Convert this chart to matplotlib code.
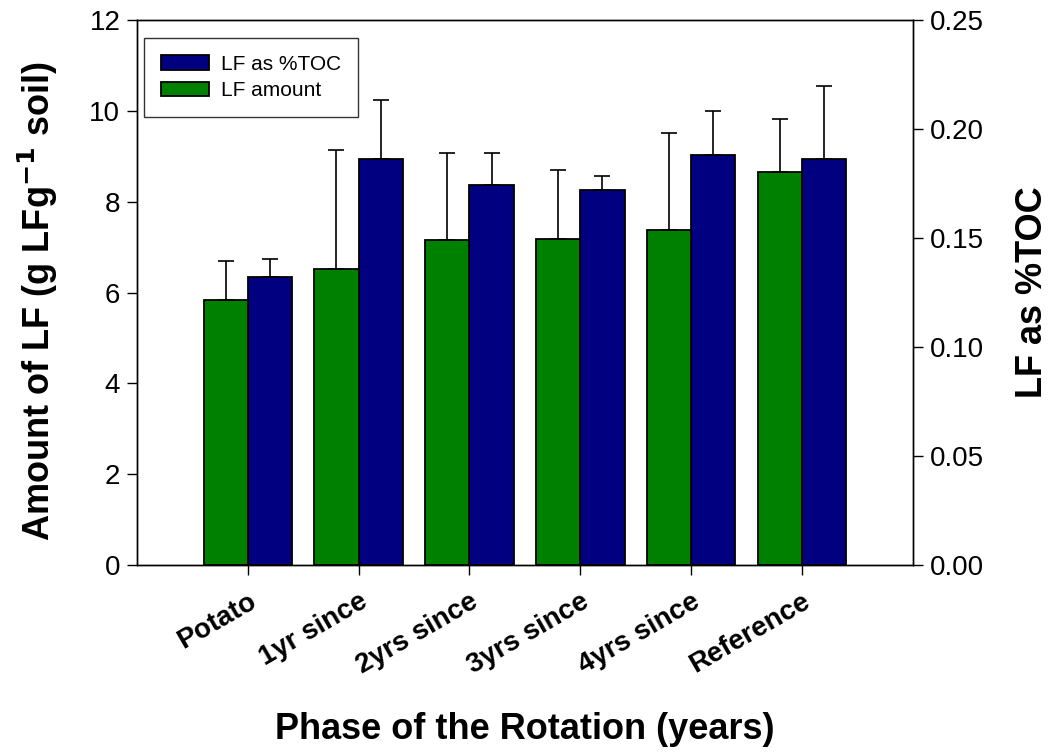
import numpy as np
import matplotlib
matplotlib.use("Agg")
import matplotlib.pyplot as plt
from matplotlib.ticker import FormatStrFormatter

plt.rcParams['font.family'] = ['Liberation Sans', 'DejaVu Sans']

# данные
phases = ["Potato", "1yr since", "2yrs since", "3yrs since", "4yrs since", "Reference"]
lf_amount = [5.83, 6.51, 7.16, 7.18, 7.37, 8.66]
lf_amount_err = [0.86, 2.64, 1.91, 1.53, 2.15, 1.16]
lf_toc = [0.132, 0.1865, 0.1743, 0.1723, 0.1882, 0.1865]
lf_toc_err = [0.0083, 0.0267, 0.015, 0.006, 0.020, 0.0332]

green = "#008000"
navy = "#000080"
width = 0.4

fig = plt.figure(figsize=(10.54, 7.53), dpi=100)
ax = fig.add_axes([0.130, 0.250, 0.736, 0.723])
ax2 = ax.twinx()

x = np.arange(len(phases))
zeros = np.zeros(len(phases))

b1 = ax.bar(x - width / 2, lf_amount, width, color=green, edgecolor="black",
            linewidth=1.3, yerr=[zeros, lf_amount_err], capsize=6,
            error_kw=dict(ecolor="black", elinewidth=1.2, capthick=1.2),
            label="LF amount")
b2 = ax2.bar(x + width / 2, lf_toc, width, color=navy, edgecolor="black",
             linewidth=1.3, yerr=[zeros, lf_toc_err], capsize=6,
             error_kw=dict(ecolor="black", elinewidth=1.2, capthick=1.2),
             label="LF as %TOC")

ax.set_xlim(-1, 6)
ax.set_ylim(0, 12)
ax2.set_ylim(0, 0.25)
ax.set_yticks(np.arange(0, 13, 2))
ax2.set_yticks(np.arange(0, 0.26, 0.05))
ax2.yaxis.set_major_formatter(FormatStrFormatter('%.2f'))

ax.set_xticks(x)
ax.set_xticklabels(phases, rotation=30, ha="right", rotation_mode="anchor",
                   fontsize=19, fontweight="bold")

for a in (ax, ax2):
    a.tick_params(direction="out", length=7, width=1, labelsize=20, pad=5)
    for s in a.spines.values():
        s.set_linewidth(1.0)
ax.tick_params(axis="x", length=7, pad=10)

ax.set_ylabel("Amount of LF (g LFg$^{\\mathbf{-1}}$ soil)", fontsize=26,
              fontweight="bold")
ax.yaxis.set_label_coords(-0.099, 0.485)
ax2.set_ylabel("LF as %TOC", fontsize=26, fontweight="bold")
ax2.yaxis.set_label_coords(1.132, 0.5)
ax.set_xlabel("Phase of the Rotation (years)", fontsize=26, fontweight="bold")
ax.xaxis.set_label_coords(0.5, -0.27)

leg = ax.legend([b2, b1], ["LF as %TOC", "LF amount"], loc="upper left",
                bbox_to_anchor=(0.009, 0.967), fontsize=15, frameon=True,
                fancybox=False, edgecolor="black", handlelength=2.3,
                handleheight=0.7, handletextpad=0.6, borderpad=0.8,
                labelspacing=0.35, borderaxespad=0)
leg.get_frame().set_linewidth(1.0)
ax.set_zorder(ax2.get_zorder() + 1)
ax.patch.set_visible(False)

fig.savefig("out.png", dpi=100)
